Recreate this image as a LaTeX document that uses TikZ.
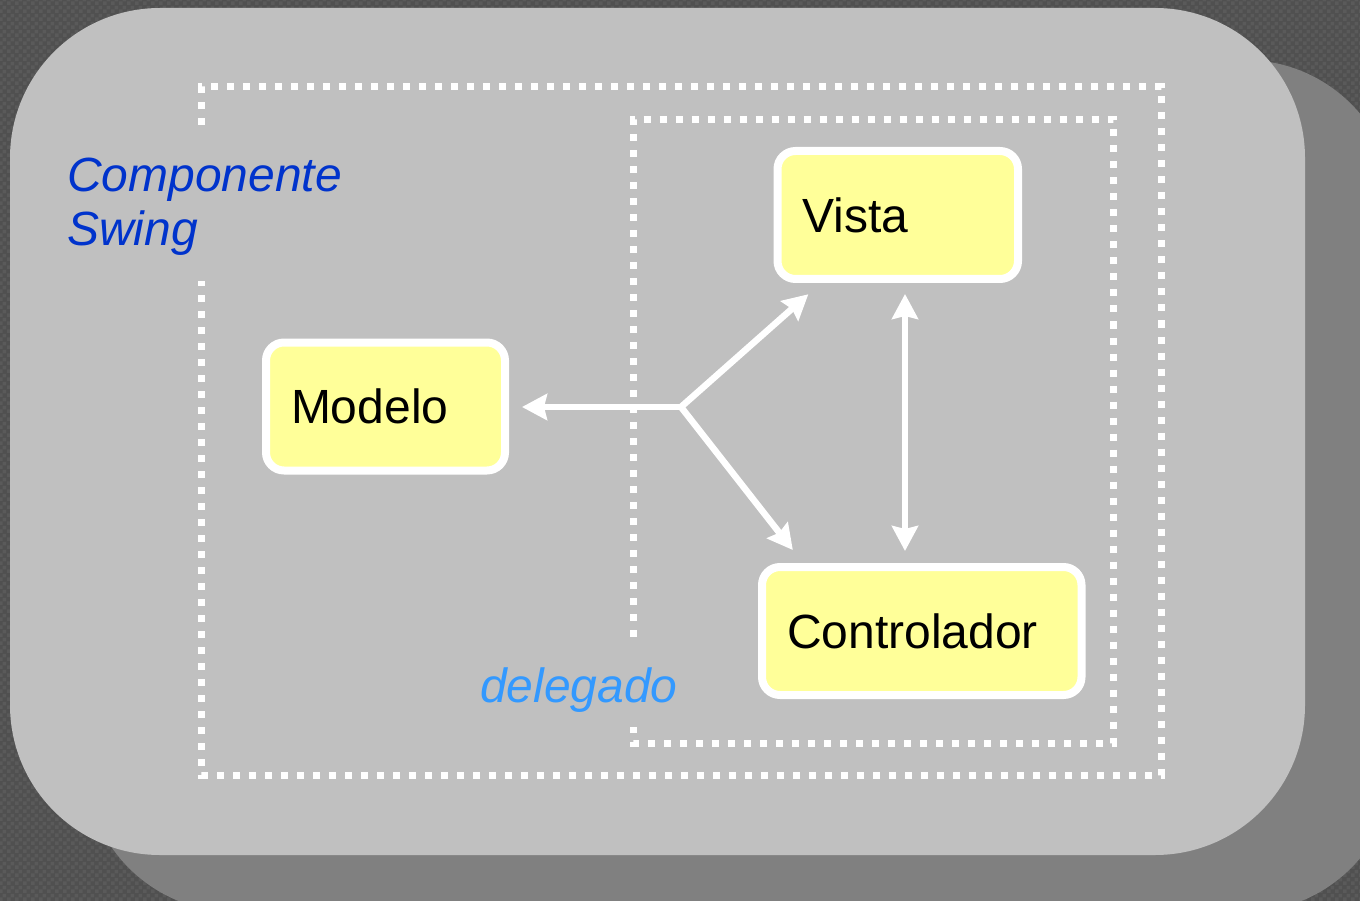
\documentclass[tikz,border=0pt]{standalone}
\usepackage{fontspec}
\setmainfont{Liberation Sans}
\usetikzlibrary{arrows.meta,patterns.meta}

\definecolor{backdrop}{HTML}{505050}
\definecolor{backcheck}{HTML}{5A5A5A}
\definecolor{panel}{HTML}{C0C0C0}
\definecolor{panelshadow}{HTML}{808080}
\definecolor{boxfill}{HTML}{FFFF99}
\definecolor{swingblue}{HTML}{0033CC}
\definecolor{delegblue}{HTML}{3399FF}

% fine checker texture for the backdrop
\tikzdeclarepattern{
  name=checks, type=uncolored,
  bottom left={(0pt,0pt)}, top right={(8pt,8pt)}, tile size={(8pt,8pt)},
  code={\fill (0pt,0pt) rectangle (4pt,4pt); \fill (4pt,4pt) rectangle (8pt,8pt);}
}

\tikzset{
  mvcbox/.style={draw=white, line width=8pt, fill=boxfill, rounded corners=18pt,
    minimum height=128pt, inner xsep=25pt, inner ysep=0pt, align=left,
    font=\fontsize{48}{55}\selectfont},
  dotline/.style={draw=white, line width=7pt, dash pattern=on 7pt off 9pt},
  tip/.style={Stealth[length=25pt,width=26pt,inset=3pt]},
  flow/.style={draw=white, line width=6.5pt, -{Stealth[length=25pt,width=26pt,inset=3pt]}},
  flowboth/.style={draw=white, line width=6.5pt,
    {Stealth[length=25pt,width=26pt,inset=3pt]}-{Stealth[length=25pt,width=26pt,inset=3pt]}},
  ital/.style={anchor=base west, inner sep=0pt, font=\fontsize{48}{55}\selectfont\itshape},
}

\begin{document}
\begin{tikzpicture}[x=1pt,y=-1pt]
  \useasboundingbox (0,0) rectangle (1360,901);
  \clip (0,0) rectangle (1360,901);

  % backdrop, shadow and panel
  \fill[backdrop] (0,0) rectangle (1360,901);
  \fill[pattern=checks, pattern color=backcheck] (0,0) rectangle (1360,901);
  \fill[panelshadow, rounded corners=150pt] (85,60) rectangle (1395,912);
  \fill[panel, rounded corners=150pt] (10,8) rectangle (1305,855);

  % component and delegate frames
  \draw[dotline] (201,125) -- (201,87) -- (1161.5,87) -- (1161.5,775) -- (201,775) -- (201,281);
  \draw[dotline] (633,637) -- (633,119.5) -- (1113.5,119.5) -- (1113.5,743) -- (633,743) -- (633,727);

  % labels
  \node[ital, text=swingblue] (comp) at (67,192) {Componente};
  \node[ital, text=swingblue] (swing) at (67,246) {Swing};
  \node[ital, text=delegblue] (deleg) at (480,702) {delegado};

  % MVC boxes
  \node[mvcbox, text width=190.5pt] (vista) at (897.75,215) {Vista};
  \node[mvcbox, text width=189pt] (modelo) at (385.5,406.5) {Modelo};
  \node[mvcbox, text width=269.5pt] (ctrl) at (921.75,631) {Controlador};

  % connectors
  \coordinate (hub) at (681,407);
  \draw[flow, shorten >=13pt] (hub) -- (hub -| modelo.east);
  \draw[flow, shorten >=17pt] (hub) -- (vista);
  \draw[flow, shorten >=16.5pt] (hub) -- ([xshift=45pt]ctrl.north west);
  \draw[flowboth, shorten <=11pt, shorten >=12pt] ([xshift=7.25pt]vista.south) -- ([xshift=-16.75pt]ctrl.north);
\end{tikzpicture}
\end{document}
